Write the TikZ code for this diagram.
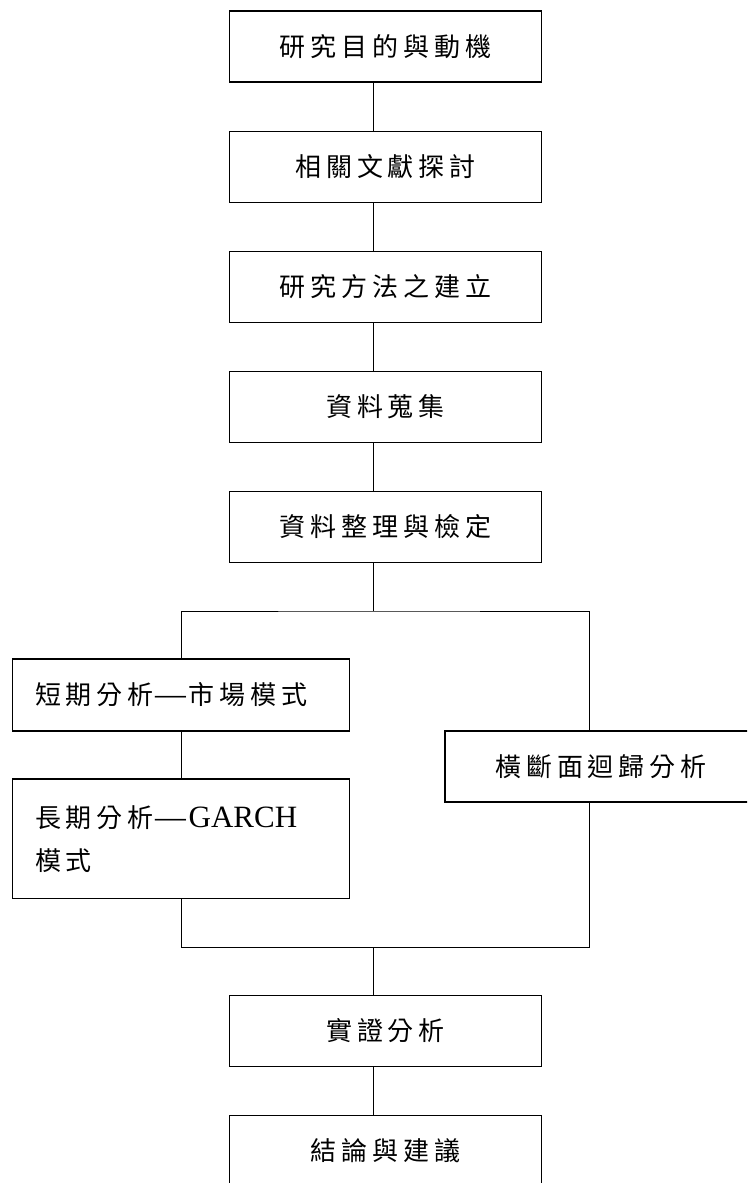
\documentclass[tikz,border=0pt]{standalone}
\usepackage{fontspec}
\usepackage{graphicx}
\setmainfont{Liberation Serif}
\newfontfamily\cjk[LetterSpace=19]{Noto Sans CJK TC}
\newfontfamily\cjkdash{Noto Sans CJK TC}
\newcommand{\longdash}{{\cjkdash\scalebox{1.5}[1]{—}}}
\usetikzlibrary{calc}
\begin{document}
\begin{tikzpicture}[x=1pt,y=-1pt,
  box/.style={draw,line width=1.4pt,minimum width=312pt,minimum height=71pt,inner sep=0pt,
    font=\fontsize{26pt}{43pt}\selectfont\cjk},
  lbox/.style={draw,line width=1.4pt,text width=292pt,inner xsep=22.5pt,inner ysep=0pt,align=left,
    font=\fontsize{26pt}{43pt}\selectfont},
  conn/.style={line width=1pt}]
\useasboundingbox (0,0) rectangle (747,1183);
\clip (0,0) rectangle (747,1183);
\fill[white] (0,0) rectangle (747,1183);
\coordinate (cx) at (373,0);
\coordinate (rx) at (589,0);
\node[box] (b1) at (385.5,46.5) {研究目的與動機};
\node[box] (b2) at (385.5,167) {相關文獻探討};
\node[box] (b3) at (385.5,287) {研究方法之建立};
\node[box] (b4) at (385.5,407) {資料蒐集};
\node[box] (b5) at (385.5,527) {資料整理與檢定};
\node[lbox,minimum height=72pt] (short) at (181,695) {{\cjk 短期分析}\longdash{\cjk 市場模式}};
\node[lbox,minimum height=119.5pt] (long) at (181,838.7) {{\cjk 長期分析}\longdash{\fontsize{31pt}{43pt}\selectfont GARCH}\\{\cjk 模式}};
\node[box] (right) at (601,766.5) {橫斷面迴歸分析};
\node[box] (b6) at (385.5,1031) {實證分析};
\node[box] (b7) at (385.5,1151) {結論與建議};
\coordinate (split) at (373,611);
\coordinate (merge) at (373,947);
\draw[conn] (b1.south -| cx) -- (b2.north -| cx);
\draw[conn] (b2.south -| cx) -- (b3.north -| cx);
\draw[conn] (b3.south -| cx) -- (b4.north -| cx);
\draw[conn] (b4.south -| cx) -- (b5.north -| cx);
\draw[conn] (b5.south -| cx) -- (split);
\draw[conn] (short.north) |- (split) -| (right.north -| rx);
\draw[conn] (short.south) -- (long.north);
\draw[conn] (long.south) |- (merge) -| (right.south -| rx);
\draw[conn] (merge) -- (b6.north -| cx);
\draw[conn] (b6.south -| cx) -- (b7.north -| cx);
\end{tikzpicture}
\end{document}
